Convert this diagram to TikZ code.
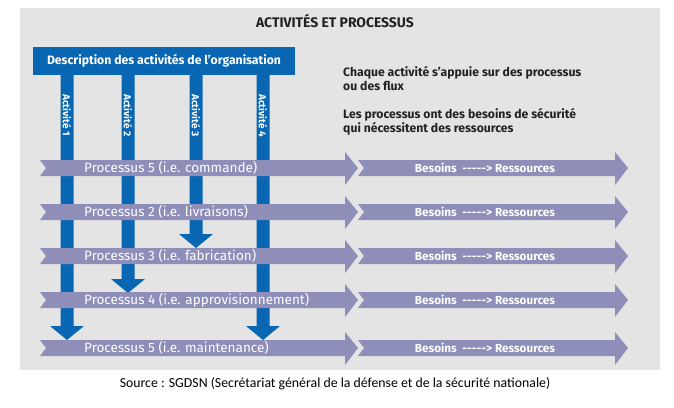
\documentclass[tikz,border=0pt]{standalone}
\usepackage{fontspec}
\setmainfont{Fira Sans}
\newfontfamily\captionfont{Carlito}
\definecolor{panelgray}{HTML}{E4E4E4}
\definecolor{flowgray}{HTML}{8E8EB9}
\definecolor{actblue}{HTML}{0866B2}
\definecolor{darktext}{HTML}{222222}
\tikzset{
	flow/.style={fill=flowgray, draw=none},
	flowtext/.style={text=white, font=\fontsize{13.5}{15}\selectfont, anchor=west, inner sep=0pt},
	needtext/.style={text=white, font=\fontsize{11.7}{13}\selectfont\bfseries, inner sep=0pt},
	activity/.style={fill=actblue, draw=none},
	acttext/.style={text=white, font=\fontsize{10}{12}\selectfont\bfseries, rotate=-90, anchor=west, inner sep=0pt}
}
% chevron arrow from x=#1 to tip x=#2 at height #3
\newcommand{\flowarrow}[3]{%
	\fill[flow] (#1,#3-8) -- (#2-13,#3-8) -- (#2-13,#3-16) -- (#2,#3) -- (#2-13,#3+17) -- (#2-13,#3+8)
		-- (#1,#3+8) -- (#1+6,#3) -- cycle;}
% activity arrow at x=#1 down to tip y=#2
\newcommand{\actarrow}[2]{%
	\fill[activity] (#1-6.5,75) -- (#1+6.5,75) -- (#1+6.5,#2-14) -- (#1+17,#2-14) -- (#1,#2) -- (#1-17,#2-14) -- (#1-6.5,#2-14) -- cycle;}
\begin{document}
\begin{tikzpicture}[x=1pt, y=-1pt]
	\useasboundingbox (0,0) rectangle (674,407);
	\fill[panelgray] (20,8) rectangle (660,370);
	\node[font=\fontsize{13.9}{15}\selectfont\bfseries, text=darktext] (title) at (335,21) {ACTIVITÉS ET PROCESSUS};

	\node[fill=actblue, text=white, font=\fontsize{12.2}{14}\selectfont\bfseries, minimum width=262pt, minimum height=28pt, inner sep=0pt] (org) at (164,61) {Description des activités de l’organisation};

	\actarrow{67}{340}
	\actarrow{128}{293}
	\actarrow{196}{248}
	\actarrow{263}{340}
	\node[acttext] (act1) at (67,94) {Activité 1};
	\node[acttext] (act2) at (128,94) {Activité 2};
	\node[acttext] (act3) at (196,94) {Activité 3};
	\node[acttext] (act4) at (263,94) {Activité 4};

	\node[anchor=north west, align=left, text=darktext, font=\fontsize{12.2}{14.5}\selectfont\bfseries, inner sep=0pt] (note1) at (343,66) {Chaque activité s’appuie sur des processus\\ou des flux};
	\node[anchor=north west, align=left, text=darktext, font=\fontsize{12.2}{14.5}\selectfont\bfseries, inner sep=0pt] (note2) at (343,108) {Les processus ont des besoins de sécurité\\qui nécessitent des ressources};

	\foreach \y/\name/\txt in {168/p1/{Processus 5 (i.e. commande)}, 212/p2/{Processus 2 (i.e. livraisons)},
		256/p3/{Processus 3 (i.e. fabrication)}, 300/p4/{Processus 4 (i.e. approvisionnement)},
		348/p5/{Processus 5 (i.e. maintenance)}}{
		\flowarrow{40}{358}{\y}
		\flowarrow{358}{628}{\y}
		\node[flowtext] (\name) at (84,\y) {\txt};
		\node[needtext] (\name-need) at (485,\y) {Besoins~~\mbox{-}\mbox{-}\mbox{-}\mbox{-}\mbox{-}>~Ressources};
	}

	\node[font=\captionfont\fontsize{13.8}{15}\selectfont, text=black] (source) at (335,384) {Source : SGDSN (Secrétariat général de la défense et de la sécurité nationale)};
\end{tikzpicture}
\end{document}
